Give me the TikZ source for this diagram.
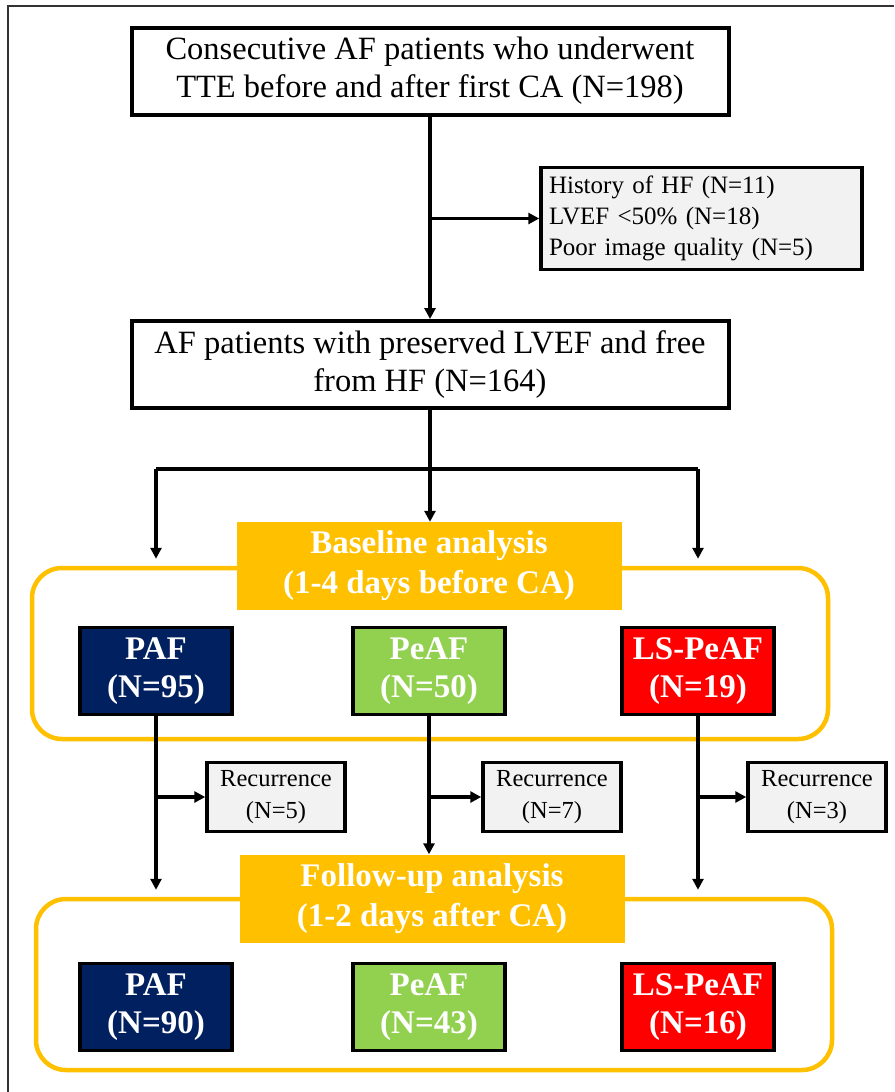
\documentclass[tikz,border=0pt]{standalone}
\usepackage{fontspec}
\setmainfont{Liberation Serif}
\usetikzlibrary{arrows.meta,calc}
\definecolor{gold}{HTML}{FFC000}
\definecolor{navy}{HTML}{002060}
\definecolor{lgreen}{HTML}{92D050}
\definecolor{lgray}{HTML}{F2F2F2}
\begin{document}
\begin{tikzpicture}[x=1pt,y=-1pt,
  bigbox/.style={draw=black,line width=4pt,fill=white,minimum width=597pt,minimum height=87pt,inner sep=0pt,align=center,font=\fontsize{32.5}{38}\selectfont},
  exclbox/.style={draw=black,line width=3.5pt,fill=lgray,text width=305pt,inner sep=8pt,minimum height=102pt,align=left,font=\fontsize{25}{31}\selectfont},
  header/.style={fill=gold,draw=none,minimum width=385pt,minimum height=88pt,inner sep=0pt,align=center,text=white,font=\bfseries\fontsize{33}{40}\selectfont},
  frame/.style={draw=gold,line width=4.5pt,rounded corners=30pt,minimum width=796pt,minimum height=171pt,inner sep=0pt},
  group/.style={draw=black,line width=3.5pt,minimum width=152pt,minimum height=87pt,inner sep=0pt,align=center,text=white,font=\bfseries\fontsize{33}{38}\selectfont},
  recbox/.style={draw=black,line width=3.5pt,fill=lgray,minimum width=138pt,minimum height=69pt,inner sep=0pt,align=center,font=\fontsize{24.5}{32}\selectfont},
  arr/.style={line width=3.5pt,-{Triangle[length=11pt,width=11pt]}},
  ln/.style={line width=3.5pt}]
\useasboundingbox (0,0) rectangle (894,1092);
\fill[white] (0,0) rectangle (894,1092);
% outer frame
\draw[line width=2pt,black!80] (7.5,1092) -- (7.5,5.5) -- (894,5.5);

% top part
\node[bigbox] (start) at (430,71) {Consecutive AF patients who underwent\\TTE before and after first CA (N=198)};
\node[exclbox] (excl) at (701.5,218.5) {History of HF (N=11)\\LVEF <50\% (N=18)\\Poor image quality (N=5)};
\node[bigbox] (pres) at (430,364.5) {AF patients with preserved LVEF and free\\from HF (N=164)};
\draw[arr] (start.south) -- (pres.north);
\coordinate (exj) at (start.south |- excl.west);
\draw[arr] (exj) -- (excl.west);

% frames
\node[frame] (fr1) at (430,653.5) {};
\node[frame] (fr2) at (434,984.5) {};

% baseline
\node[header] (hdr1) at (429,566) {Baseline analysis\\(1-4 days before CA)};
\node[group,fill=navy] (paf1) at (156,671) {PAF\\(N=95)};
\node[group,fill=lgreen] (peaf1) at (429,671) {PeAF\\(N=50)};
\node[group,fill=red] (ls1) at (698,671) {LS-PeAF\\(N=19)};

% branch
\coordinate (br) at (pres.south |- 0,469);
\coordinate (brl) at (paf1.north |- br);
\coordinate (brr) at (ls1.north |- br);
\draw[ln] (pres.south) -- (br);
\draw[arr] (br) -- (br |- hdr1.north);
\draw[ln] (brl) -- (brr);
\draw[arr,shorten >=7pt] (brl) -- (paf1.north |- fr1.north);
\draw[arr,shorten >=7pt] (brr) -- (ls1.north |- fr1.north);

% follow-up
\node[header] (hdr2) at (432,898.5) {Follow-up analysis\\(1-2 days after CA)};
\node[group,fill=navy] (paf2) at (156,1007) {PAF\\(N=90)};
\node[group,fill=lgreen] (peaf2) at (429,1007) {PeAF\\(N=43)};
\node[group,fill=red] (ls2) at (698,1007) {LS-PeAF\\(N=16)};

% recurrence
\node[recbox] (rec1) at (276,797) {Recurrence\\(N=5)};
\node[recbox] (rec2) at (552,797) {Recurrence\\(N=7)};
\node[recbox] (rec3) at (817,797) {Recurrence\\(N=3)};

\draw[arr,shorten >=7pt] (paf1.south) -- (paf1.south |- fr2.north);
\draw[arr] (peaf1.south) -- (peaf1.south |- hdr2.north);
\draw[arr,shorten >=7pt] (ls1.south) -- (ls1.south |- fr2.north);
\coordinate (j1) at (paf1.south |- rec1.west);
\coordinate (j2) at (peaf1.south |- rec2.west);
\coordinate (j3) at (ls1.south |- rec3.west);
\draw[arr] (j1) -- (rec1.west);
\draw[arr] (j2) -- (rec2.west);
\draw[arr] (j3) -- (rec3.west);
\end{tikzpicture}
\end{document}
